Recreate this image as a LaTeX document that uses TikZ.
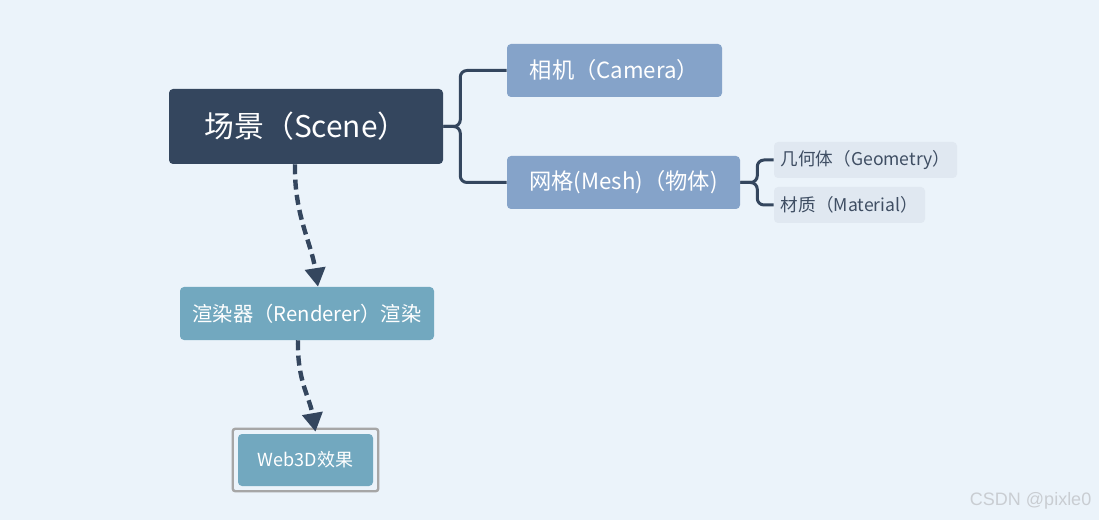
\documentclass[tikz,border=0pt]{standalone}
\usepackage{fontspec}
\setmainfont{Noto Sans CJK SC}
\newfontfamily\markfont{Liberation Sans}
\usetikzlibrary{arrows.meta}

\definecolor{pagebg}{HTML}{EBF3FA}
\definecolor{scenebg}{HTML}{34465E}
\definecolor{childbg}{HTML}{85A3C9}
\definecolor{leafbg}{HTML}{E0E8F1}
\definecolor{leaftext}{HTML}{3F4E63}
\definecolor{renderbg}{HTML}{72A8BF}
\definecolor{framegray}{HTML}{A6A6A6}
\definecolor{markgray}{HTML}{C9CDD2}

\begin{document}
\begin{tikzpicture}[x=0.75pt, y=-0.75pt,
		topic/.style={fill=scenebg, text=white, rounded corners=3pt, inner sep=0pt,
			minimum width=205.5pt, minimum height=56.25pt, font=\fontsize{22.4}{26}\selectfont},
		child/.style={fill=childbg, text=white, rounded corners=3pt, inner sep=0pt,
			minimum height=39.75pt, font=\fontsize{16.7}{20}\selectfont},
		leaf/.style={fill=leafbg, text=leaftext, rounded corners=3pt, inner sep=0pt,
			minimum height=27pt, font=\fontsize{13.2}{16}\selectfont},
		output/.style={fill=renderbg, text=white, rounded corners=3pt, inner sep=0pt,
			minimum height=39.75pt, font=\fontsize{15.2}{18}\selectfont},
		branch/.style={draw=scenebg, line width=2.25pt, rounded corners=5pt},
		flow/.style={draw=scenebg, line width=3.3pt, dash pattern=on 7.5pt off 4pt,
			-{Triangle[length=14pt,width=15pt]}}
	]
		\useasboundingbox[fill=pagebg] (0,0) rectangle (1099,520);

		\node[topic] (scene) at (306,126.5) {场景（Scene）};
		\node[child, minimum width=161.25pt] (camera) at (614.5,70.5) {相机（Camera）};
		\node[child, minimum width=174.75pt] (mesh) at (623.5,182.5) {网格(Mesh)（物体)};
		\node[leaf, minimum width=137.25pt] (geometry) at (865.5,160) {几何体（Geometry）};
		\node[leaf, minimum width=113.25pt] (material) at (849.5,205) {材质（Material）};
		\node[output, minimum width=190.5pt] (renderer) at (307,313.5) {渲染器（Renderer）渲染};
		\node[output, minimum width=101.25pt, minimum height=39pt, font=\fontsize{13.5}{16}\selectfont] (web) at (305.5,460) {Web3D效果};
		\draw[framegray, line width=1.8pt, rounded corners=2pt]
			([shift={(-5,5)}]web.south west) rectangle ([shift={(5,-5)}]web.north east);

		\draw[branch] (scene.east) -- ++(17,0) |- (camera.west);
		\draw[branch] (scene.east) -- ++(17,0) |- (mesh.west);
		\draw[branch] (mesh.east) -- ++(17,0) |- (geometry.west);
		\draw[branch] (mesh.east) -- ++(17,0) |- (material.west);

		\draw[flow] ([xshift=-8.25pt]scene.south) .. controls +(-1,50) and +(-7,-45) .. ([shift={(11,0)}]renderer.north);
		\draw[flow] ([xshift=-6.75pt]renderer.south) .. controls +(-1,40) and +(-6,-35) .. ([shift={(10,-2)}]web.north);

		\node[text=markgray, anchor=east, font=\markfont\fontsize{13.5}{16}\selectfont] (mark) at (1096,501) {CSDN @pixle0};
	\end{tikzpicture}
\end{document}
